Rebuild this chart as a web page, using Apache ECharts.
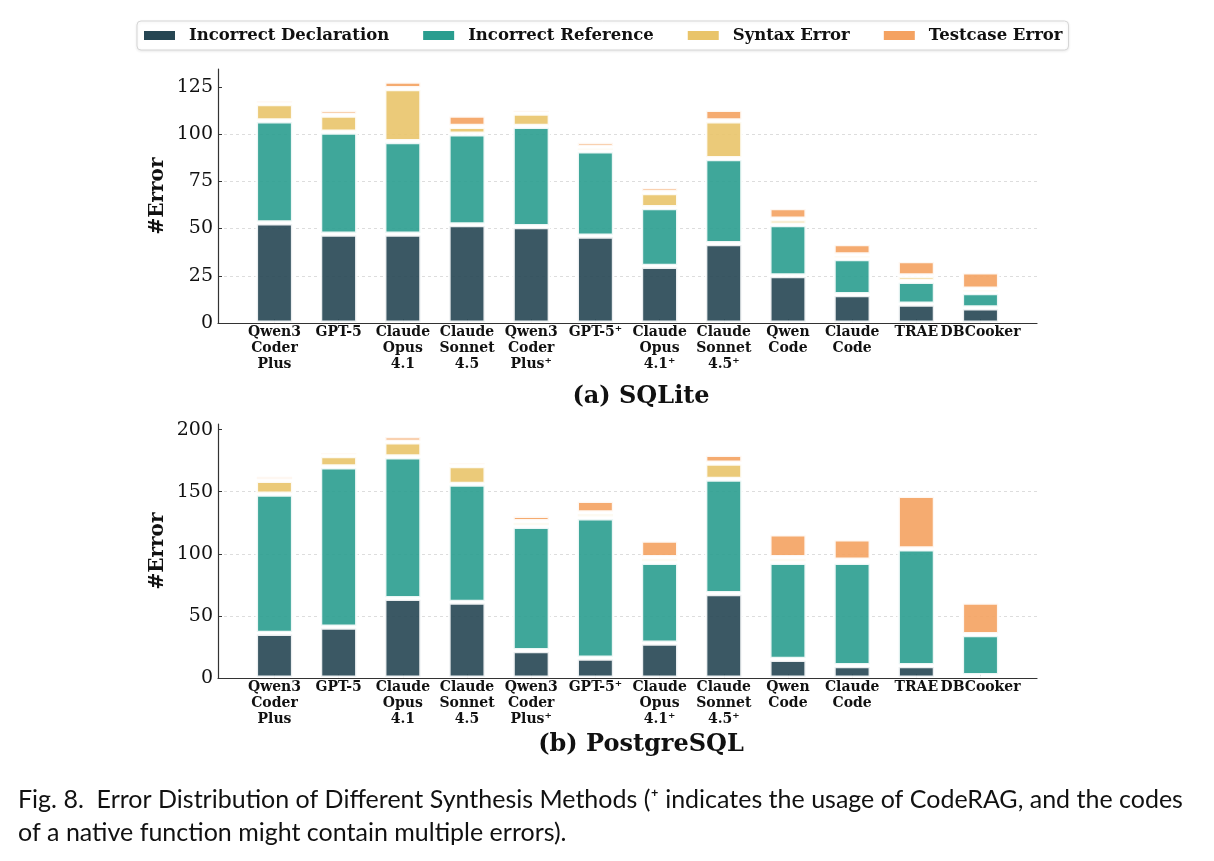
<!DOCTYPE html>
<html>
<head>
<meta charset="utf-8">
<script src="https://cdn.jsdelivr.net/npm/echarts@6/dist/echarts.min.js"></script>
<style>
  html, body { margin: 0; padding: 0; background: #fff; }
  #chart { width: 1214px; height: 861px; }
</style>
</head>
<body>
<div id="chart"></div>
<script>
  // models, left to right (⁺ = with CodeRAG)
  const categories = [
    'Qwen3\nCoder\nPlus', 'GPT-5', 'Claude\nOpus\n4.1', 'Claude\nSonnet\n4.5',
    'Qwen3\nCoder\nPlus⁺', 'GPT-5⁺', 'Claude\nOpus\n4.1⁺', 'Claude\nSonnet\n4.5⁺',
    'Qwen\nCode', 'Claude\nCode', 'TRAE', 'DBCooker'
  ];
  const errorTypes = ['Incorrect Declaration', 'Incorrect Reference', 'Syntax Error', 'Testcase Error'];

  // (a) SQLite
  const sqliteDecl   = [53, 47, 47, 52, 51, 46, 30, 42, 25, 15, 10, 8];
  const sqliteRef    = [54, 54, 49, 48, 53, 45, 31, 45, 27, 19, 12, 8];
  const sqliteSyntax = [9, 9, 28, 4, 7, 2, 8, 20, 3, 2, 3, 2];
  const sqliteTest   = [2, 3, 4, 6, 2, 3, 3, 6, 6, 6, 8, 9];
  const sqliteTicks  = [0, 25, 50, 75, 100, 125];

  // (b) PostgreSQL
  const pgDecl   = [36, 41, 64, 61, 22, 16, 28, 68, 15, 10, 10, 2];
  const pgRef    = [112, 129, 114, 95, 100, 113, 65, 92, 78, 83, 94, 33];
  const pgSyntax = [11, 9, 12, 15, 4, 4, 4, 13, 4, 2, 0, 0];
  const pgTest   = [4, 3, 5, 3, 5, 10, 14, 7, 19, 17, 43, 26];
  const pgTicks  = [0, 50, 100, 150, 200];

  const colors = ['#264653', '#2a9d8f', '#e9c46a', '#f4a261'];
  const serif = 'DejaVu Serif';
  const axisColor = '#333';

  const chart = echarts.init(document.getElementById('chart'), null, { renderer: 'canvas' });

  // bars live in an inner grid, the frame (spines, y labels, grid lines) in an outer one
  const frameLeft = 218, frameWidth = 819, band = frameWidth / 12.76;
  const barsLeft = frameLeft + 0.38 * band;
  const makeGrids = (top, height) => [
    { left: barsLeft, width: band * 12, top, height, outerBoundsMode: 'none' },
    { left: frameLeft, width: frameWidth, top, height, outerBoundsMode: 'none' }
  ];

  const catAxis = (gridIndex) => ({
    type: 'category', gridIndex, data: categories, boundaryGap: true,
    axisLine: { show: false },
    axisTick: { show: true, inside: true, length: 4, alignWithLabel: true, lineStyle: { color: '#999' } },
    axisLabel: {
      interval: 0, margin: 1, fontFamily: serif, fontWeight: 'bold',
      fontSize: 14, lineHeight: 16, color: '#111', verticalAlign: 'top'
    },
    splitLine: { show: false }
  });
  const frameXAxis = (gridIndex) => ({
    type: 'value', gridIndex, min: 0, max: 1,
    axisLine: { show: true, onZero: false, lineStyle: { color: axisColor, width: 1.2 } },
    axisTick: { show: false }, axisLabel: { show: false }, splitLine: { show: false }
  });
  const hiddenYAxis = (gridIndex, max) => ({ type: 'value', gridIndex, min: 0, max, show: false });
  const frameYAxis = (gridIndex, max, ticks) => ({
    type: 'value', gridIndex, min: 0, max,
    name: '#Error', nameLocation: 'middle', nameGap: 50, nameMoveOverlap: false,
    nameTextStyle: { fontFamily: serif, fontWeight: 'bold', fontSize: 20, color: '#111' },
    axisLine: { show: true, onZero: false, lineStyle: { color: axisColor, width: 1.2 } },
    axisTick: { show: true, inside: true, length: 4, customValues: ticks, lineStyle: { color: axisColor } },
    axisLabel: { customValues: ticks, margin: 5, fontFamily: serif, fontSize: 19, color: '#111' },
    splitLine: { show: true, showMaxLine: false, lineStyle: { color: '#dddddd', type: [3, 3], width: 1 } }
  });

  const makeSeries = (name, values, color, axisIdx) => ({
    name, type: 'bar', xAxisIndex: axisIdx, yAxisIndex: axisIdx, stack: 'db' + axisIdx,
    barWidth: 38, data: values,
    itemStyle: { color, opacity: 0.9, borderColor: '#ffffff', borderWidth: 2.6 },
    emphasis: { disabled: true }
  });

  const sqliteSets = [sqliteDecl, sqliteRef, sqliteSyntax, sqliteTest];
  const pgSets = [pgDecl, pgRef, pgSyntax, pgTest];
  const series = [];
  sqliteSets.forEach((d, k) => series.push(makeSeries(errorTypes[k], d, colors[k], 0)));
  pgSets.forEach((d, k) => series.push(makeSeries(errorTypes[k], d, colors[k], 2)));

  const textEl = (text, x, y, font, align) => ({
    type: 'text', x, y, silent: true,
    style: { text, fill: '#111', font, align, verticalAlign: 'middle' }
  });

  chart.setOption({
    animation: false,
    backgroundColor: '#fff',
    legend: {
      data: errorTypes,
      left: 137, top: 21,
      padding: [6, 6, 6, 7],
      itemGap: 34, itemWidth: 31, itemHeight: 9,
      icon: 'rect',
      itemStyle: { opacity: 1, borderWidth: 0 },
      borderColor: '#d6d6d6', borderWidth: 1, borderRadius: 4,
      shadowColor: 'rgba(0,0,0,0.08)', shadowBlur: 3, shadowOffsetY: 1,
      backgroundColor: '#fff',
      textStyle: { fontFamily: serif, fontWeight: 'bold', fontSize: 16.5, color: '#111', padding: [0, 0, 0, 9] }
    },
    grid: [...makeGrids(69, 254), ...makeGrids(424, 254)],
    xAxis: [catAxis(0), frameXAxis(1), catAxis(2), frameXAxis(3)],
    yAxis: [
      hiddenYAxis(0, 134.4), frameYAxis(1, 134.4, sqliteTicks),
      hiddenYAxis(2, 204.5), frameYAxis(3, 204.5, pgTicks)
    ],
    series,
    graphic: [
      textEl('(a) SQLite', 641, 397, 'bold 24px "DejaVu Serif"', 'center'),
      textEl('(b) PostgreSQL', 641, 745, 'bold 24px "DejaVu Serif"', 'center'),
      textEl('Fig. 8.  Error Distribution of Different Synthesis Methods (⁺ indicates the usage of CodeRAG, and the codes',
        18, 800, '25px Lato', 'left'),
      textEl('of a native function might contain multiple errors).', 18, 833, '25px Lato', 'left')
    ]
  });
</script>
</body>
</html>
